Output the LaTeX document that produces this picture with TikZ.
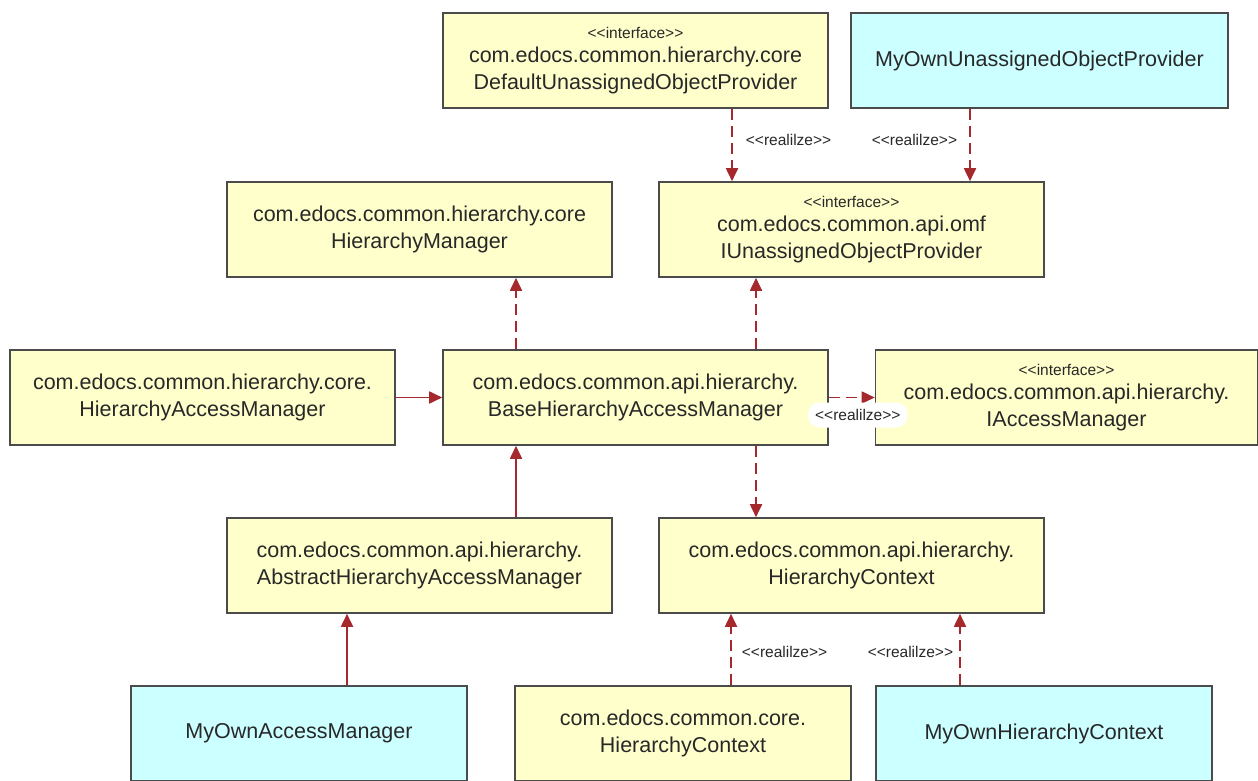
\documentclass[tikz,border=0pt]{standalone}
\usepackage{fontspec}
\setmainfont{Liberation Sans}
\usetikzlibrary{arrows.meta}
\definecolor{boxy}{HTML}{FFFFCC}
\definecolor{boxc}{HTML}{CCFFFF}
\definecolor{edgec}{RGB}{165,40,45}
\definecolor{bord}{RGB}{75,75,75}
\definecolor{txt}{RGB}{40,40,40}
\newcommand{\dlt}{<\kern0pt<}
\newcommand{\dgt}{>\kern0pt>}
\newcommand{\stereo}{{\fontsize{15.5}{17}\selectfont \dlt interface\dgt}}
\newcommand{\rlz}{\dlt realilze\dgt}
\begin{document}
\begin{tikzpicture}[x=1pt,y=-1pt,
  cls/.style={draw=bord, line width=1.6pt, fill=boxy, minimum width=385pt,
    minimum height=95pt, inner sep=0pt, align=center, text=txt,
    font=\fontsize{21.5}{27}\selectfont},
  own/.style={cls, fill=boxc},
  conn/.style={draw=edgec, line width=1.8pt, -{Triangle[length=13pt,width=12pt]}},
  real/.style={conn, dash pattern=on 11pt off 6pt},
  lbl/.style={text=txt, font=\fontsize{15.5}{17}\selectfont, inner sep=2pt},
  pill/.style={lbl, fill=white, rounded corners=11pt, minimum height=25pt, inner xsep=7pt}
]
\useasboundingbox (0,0) rectangle (1258,781);
\fill[white] (0,0) rectangle (1258,781);

% boxes
\node[cls] (def) at (635.5,60.5) {\stereo\\[-3pt] com.edocs.common.hierarchy.core\\ DefaultUnassignedObjectProvider};
\node[own, minimum width=377pt] (myun) at (1039.5,60.5) {MyOwnUnassignedObjectProvider};
\node[cls] (hm) at (419.5,229.5) {com.edocs.common.hierarchy.core\\ HierarchyManager};
\node[cls] (iu) at (851.5,229.5) {\stereo\\[-3pt] com.edocs.common.api.omf\\ IUnassignedObjectProvider};
\node[cls] (ham) at (202.5,397.5) {com.edocs.common.hierarchy.core.\\ HierarchyAccessManager};
\node[cls] (base) at (635.5,397.5) {com.edocs.common.api.hierarchy.\\ BaseHierarchyAccessManager};
\node[cls, minimum width=382pt] (iam) at (1066.5,397.5) {\stereo\\[-3pt] com.edocs.common.api.hierarchy.\\ IAccessManager};
\node[cls] (abs) at (419.5,565.5) {com.edocs.common.api.hierarchy.\\ AbstractHierarchyAccessManager};
\node[cls] (hc) at (851.5,565.5) {com.edocs.common.api.hierarchy.\\ HierarchyContext};
\node[own, minimum width=336pt] (myam) at (299,733.5) {MyOwnAccessManager};
\node[cls, minimum width=336pt] (corehc) at (683,733.5) {com.edocs.common.core.\\ HierarchyContext};
\node[own, minimum width=336pt] (myhc) at (1044,733.5) {MyOwnHierarchyContext};

% connectors
\draw[real] ([xshift=96.5pt]def.south) -- node[lbl, pos=0.43, right=11pt] {\rlz} ([xshift=-119.5pt]iu.north);
\draw[real] ([xshift=-69.5pt]myun.south) -- node[lbl, pos=0.43, left=10pt] {\rlz} ([xshift=118.5pt]iu.north);
\draw[real] ([xshift=-119.5pt]base.north) -- ([xshift=96.5pt]hm.south);
\draw[real] ([xshift=120.5pt]base.north) -- ([xshift=-95.5pt]iu.south);
\draw[conn] (ham.east) -- (base.west);
\draw[real] (base.east) -- (iam.west);
\draw[real] ([xshift=120.5pt]base.south) -- ([xshift=-95.5pt]hc.north);
\draw[conn] ([xshift=96.5pt]abs.north) -- ([xshift=-119.5pt]base.south);
\draw[conn] ([xshift=48pt]myam.north) -- ([xshift=-72.5pt]abs.south);
\draw[real] ([xshift=48pt]corehc.north) -- node[lbl, pos=0.47, right=8pt] {\rlz} ([xshift=-120.5pt]hc.south);
\draw[real] ([xshift=-84pt]myhc.north) -- node[lbl, pos=0.47, left=4pt] {\rlz} ([xshift=108.5pt]hc.south);
\node[pill] (pl) at ([xshift=29pt,yshift=-17.5pt]base.east) {\rlz};
\end{tikzpicture}
\end{document}
